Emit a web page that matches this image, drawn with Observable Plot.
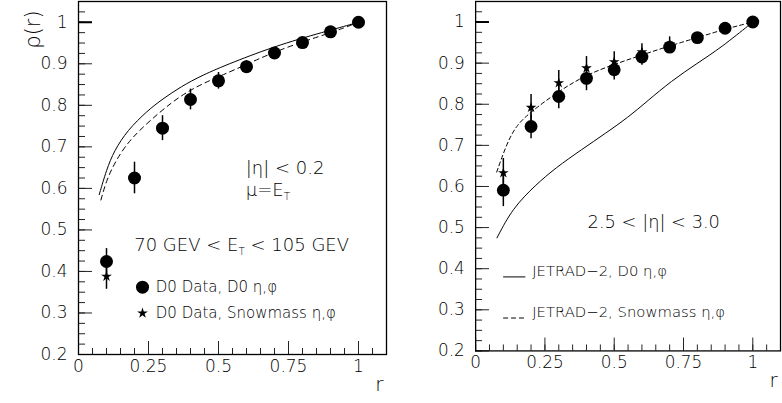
<!DOCTYPE html>
<html>
<head>
<meta charset="utf-8">
<script src="https://cdn.jsdelivr.net/npm/d3@7"></script>
<script src="https://cdn.jsdelivr.net/npm/@observablehq/plot@0.6"></script>
<style>
  html, body { margin: 0; padding: 0; background: #fff; }
  #wrap { position: relative; width: 782px; height: 403px; overflow: hidden; background: #fff; }
  #left { position: absolute; left: 0; top: 0; }
  #right { position: absolute; left: 390px; top: 0; }
</style>
</head>
<body>
<div id="wrap"><div id="left"></div><div id="right"></div></div>
<script>
// ---------- data ----------
const rBins = [0.1, 0.2, 0.3, 0.4, 0.5, 0.6, 0.7, 0.8, 0.9, 1.0];

// Left panel: |eta| < 0.2
const leftCircle    = [0.424, 0.625, 0.745, 0.814, 0.859, 0.893, 0.926, 0.951, 0.977, 1.000];
const leftCircleErr = [0.031, 0.038, 0.030, 0.025, 0.020, 0.015, 0.012, 0.010, 0.008, 0.000];
const leftStarR     = [0.1];
const leftStar      = [0.388];
const leftStarErr   = [0.031];
const leftSolidR    = [0.074, 0.10, 0.127, 0.175, 0.246, 0.30, 0.366, 0.44, 0.544, 0.72, 0.90, 1.0];
const leftSolidRho  = [0.585, 0.645, 0.690, 0.740, 0.787, 0.815, 0.845, 0.872, 0.902, 0.947, 0.981, 1.0];
const leftDashR     = [0.080, 0.10, 0.133, 0.187, 0.294, 0.366, 0.45, 0.544, 0.72, 0.90, 1.0];
const leftDashRho   = [0.572, 0.620, 0.667, 0.722, 0.786, 0.824, 0.855, 0.881, 0.936, 0.974, 1.0];

// Right panel: 2.5 < |eta| < 3.0
const rightCircle    = [0.591, 0.746, 0.819, 0.863, 0.884, 0.915, 0.939, 0.962, 0.985, 1.000];
const rightCircleErr = [0.040, 0.030, 0.030, 0.030, 0.025, 0.020, 0.015, 0.010, 0.008, 0.000];
const rightStarR     = [0.1, 0.2, 0.3, 0.4, 0.5, 0.6, 0.7];
const rightStar      = [0.633, 0.792, 0.852, 0.888, 0.903, 0.927, 0.946];
const rightStarErr   = [0.035, 0.032, 0.030, 0.028, 0.025, 0.020, 0.018];
const rightSolidR    = [0.077, 0.133, 0.217, 0.288, 0.383, 0.47, 0.55, 0.62, 0.705, 0.80, 0.884, 1.0];
const rightSolidRho  = [0.475, 0.547, 0.604, 0.645, 0.690, 0.730, 0.768, 0.808, 0.856, 0.900, 0.937, 1.0];
const rightDashR     = [0.076, 0.11, 0.145, 0.20, 0.30, 0.40, 0.50, 0.60, 0.70, 0.80, 0.90, 1.0];
const rightDashRho   = [0.635, 0.700, 0.748, 0.782, 0.832, 0.872, 0.897, 0.920, 0.942, 0.962, 0.983, 1.0];

// axis ticks
const xTickLabels = [0, 0.25, 0.5, 0.75, 1];
const yTickLabels = [0.2, 0.3, 0.4, 0.5, 0.6, 0.7, 0.8, 0.9, 1.0];
const xMinor = d3.range(0, 1.1001, 0.05).map(v => +v.toFixed(3));
const yMinor = d3.range(0.2, 1.0501, 0.025).map(v => +v.toFixed(3));

const FONT = "DejaVu Sans";
const fmt = d => String(+d.toFixed(2));
const pts = (xs, ys) => xs.map((x, i) => ({x, y: ys[i]}));
const bars = (xs, ys, es) => xs.map((x, i) => ({x, y1: ys[i] - es[i], y2: ys[i] + es[i]})).filter(d => d.y2 > d.y1);

function axesMarks() {
  return [
    Plot.ruleY(yMinor, {x1: 0, x2: 0.025, stroke: "#222", strokeWidth: 1}),
    Plot.ruleY(yTickLabels, {x1: 0, x2: 0.05, stroke: "#222", strokeWidth: 1}),
    Plot.ruleY([1], {x1: 0, x2: 0.05, stroke: "#000", strokeWidth: 2}),
    Plot.ruleX(xMinor, {y1: 0.2, y2: 0.2145, stroke: "#222", strokeWidth: 1}),
    Plot.ruleX(xTickLabels, {y1: 0.2, y2: 0.2313, stroke: "#222", strokeWidth: 1}),
    Plot.axisY(yTickLabels, {tickSize: 0, tickPadding: 11, tickFormat: fmt, fontSize: 17, fontWeight: 300, label: null}),
    Plot.axisX(xTickLabels, {tickSize: 0, tickPadding: 5, tickFormat: fmt, fontSize: 17, fontWeight: 300, label: null}),
    Plot.frame({stroke: "#000", strokeWidth: 1.3}),
    Plot.text(["r"], {frameAnchor: "bottom-right", dx: -3, dy: 36, lineAnchor: "bottom", textAnchor: "end", fontSize: 20, fontWeight: 300})
  ];
}

// subscript T for E_T
function richText(svg) {
  d3.select(svg).selectAll("text").each(function () {
    const t = this.textContent;
    if (!/_T/.test(t)) return;
    const sel = d3.select(this);
    sel.text(null);
    const tokens = t.split(/(_T)/).filter(s => s);
    let lowered = false;
    tokens.forEach(tok => {
      if (tok === "_T") {
        sel.append("tspan").attr("font-size", "0.58em").attr("dy", 4).text("T");
        lowered = true;
      } else {
        const ts = sel.append("tspan");
        if (lowered) { ts.attr("dy", -4); lowered = false; }
        ts.text(tok);
      }
    });
  });
}

const common = {
  height: 403,
  marginTop: 1,
  marginBottom: 49,
  x: {domain: [0, 1.1]},
  y: {domain: [0.2, 1.05]},
  style: {fontFamily: FONT, fontSize: "17px", color: "#000", background: "transparent", overflow: "visible"}
};

const left = Plot.plot({
  ...common,
  width: 391,
  marginLeft: 78,
  marginRight: 5,
  marks: [
    ...axesMarks(),
    Plot.text(["ρ(r)"], {frameAnchor: "top-left", dx: -53, dy: 28, rotate: -90, textAnchor: "middle", fontSize: 21, fontWeight: 300}),
    Plot.line(pts(leftSolidR, leftSolidRho), {x: "x", y: "y", curve: "basis", stroke: "#000", strokeWidth: 1}),
    Plot.line(pts(leftDashR, leftDashRho), {x: "x", y: "y", curve: "basis", stroke: "#000", strokeWidth: 1, strokeDasharray: "5,4"}),
    Plot.ruleX(bars(rBins, leftCircle, leftCircleErr), {x: "x", y1: "y1", y2: "y2", stroke: "#000", strokeWidth: 1.5}),
    Plot.ruleX(bars(leftStarR, leftStar, leftStarErr), {x: "x", y1: "y1", y2: "y2", stroke: "#000", strokeWidth: 1.5}),
    Plot.dot(pts(rBins, leftCircle), {x: "x", y: "y", r: 6.5, fill: "#000", stroke: "none"}),
    Plot.dot(pts(leftStarR, leftStar), {x: "x", y: "y", r: 3.4, symbol: "star", fill: "#000", stroke: "none"}),
    Plot.text(["|η| < 0.2"], {x: 0.5975, y: 0.6475, textAnchor: "start", fontSize: 18, fontWeight: 300}),
    Plot.text(["μ=E_T"], {x: 0.5975, y: 0.595, textAnchor: "start", fontSize: 18, fontWeight: 300}),
    Plot.text(["70 GEV < E_T < 105 GEV"], {x: 0.199, y: 0.4627, textAnchor: "start", fontSize: 18, fontWeight: 300}),
    Plot.dot([0], {x: 0.2286, y: 0.3622, r: 6.5, fill: "#000", stroke: "none"}),
    Plot.text(["D0 Data, D0 η,φ"], {x: 0.276, y: 0.3622, textAnchor: "start", fontSize: 15, fontWeight: 300}),
    Plot.dot([0], {x: 0.2286, y: 0.2995, r: 3.4, symbol: "star", fill: "#000", stroke: "none"}),
    Plot.text(["D0 Data, Snowmass η,φ"], {x: 0.276, y: 0.2995, textAnchor: "start", fontSize: 15, fontWeight: 300})
  ]
});

const right = Plot.plot({
  ...common,
  width: 396,
  marginLeft: 86,
  marginRight: 2,
  marks: [
    ...axesMarks(),
    Plot.line(pts(rightSolidR, rightSolidRho), {x: "x", y: "y", curve: "basis", stroke: "#000", strokeWidth: 1}),
    Plot.line(pts(rightDashR, rightDashRho), {x: "x", y: "y", curve: "basis", stroke: "#000", strokeWidth: 1, strokeDasharray: "4,3"}),
    Plot.ruleX(bars(rBins, rightCircle, rightCircleErr), {x: "x", y1: "y1", y2: "y2", stroke: "#000", strokeWidth: 1.5}),
    Plot.ruleX(bars(rightStarR, rightStar, rightStarErr), {x: "x", y1: "y1", y2: "y2", stroke: "#000", strokeWidth: 1.5}),
    Plot.dot(pts(rBins, rightCircle), {x: "x", y: "y", r: 6.5, fill: "#000", stroke: "none"}),
    Plot.dot(pts(rightStarR, rightStar), {x: "x", y: "y", r: 3.4, symbol: "star", fill: "#000", stroke: "none"}),
    Plot.text(["2.5 < |η| < 3.0"], {x: 0.404, y: 0.513, textAnchor: "start", fontSize: 18, fontWeight: 300}),
    Plot.ruleY([0.38], {x1: 0.101, x2: 0.181, stroke: "#000", strokeWidth: 1}),
    Plot.text(["JETRAD−2, D0 η,φ"], {x: 0.204, y: 0.395, textAnchor: "start", fontSize: 15, fontWeight: 300}),
    Plot.ruleY([0.28], {x1: 0.101, x2: 0.181, stroke: "#000", strokeWidth: 1, strokeDasharray: "5,3"}),
    Plot.text(["JETRAD−2, Snowmass η,φ"], {x: 0.204, y: 0.293, textAnchor: "start", fontSize: 15, fontWeight: 300})
  ]
});

richText(left);
richText(right);
document.getElementById("left").appendChild(left);
document.getElementById("right").appendChild(right);
</script>
</body>
</html>
